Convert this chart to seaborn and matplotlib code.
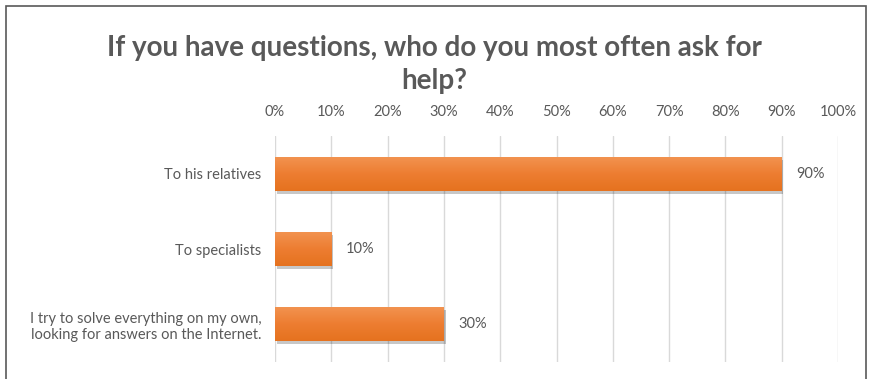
import matplotlib
matplotlib.use("Agg")
import matplotlib.pyplot as plt
import seaborn as sns
import pandas as pd
import numpy as np
from matplotlib.patches import Rectangle

categories = [
    "To his relatives",
    "To specialists",
    "I try to solve everything on my own,\nlooking for answers on the Internet.",
]
shares = [90, 10, 30]
tick_values = [0, 10, 20, 30, 40, 50, 60, 70, 80, 90, 100]
tick_labels = [f"{v}%" for v in tick_values]
title = "If you have questions, who do you most often ask for\nhelp?"

sns.set_theme(style="white")
plt.rcParams["font.family"] = ["Lato", "DejaVu Sans"]

df = pd.DataFrame({"category": categories, "share": shares})

fig = plt.figure(figsize=(8.69, 3.79), dpi=100)
ax = fig.add_axes([0.3165, 0.045, 0.6478, 0.596])

sns.barplot(data=df, x="share", y="category", color="#ED7D31", width=0.45,
            saturation=1, ax=ax, zorder=3, edgecolor="none")

# vertical gradient on each bar plus a soft drop shadow
grad = np.linspace(0, 1, 64).reshape(-1, 1)
cmap = matplotlib.colors.LinearSegmentedColormap.from_list(
    "bar", ["#F2924F", "#ED7D31", "#E5721F"])
for p in ax.patches:
    x0, y0 = p.get_x(), p.get_y()
    w, h = p.get_width(), p.get_height()
    shadow = Rectangle((x0 + 0.3, y0 + 0.04), w, h, facecolor="#000000",
                       alpha=0.22, edgecolor="none", zorder=2)
    ax.add_patch(shadow)
    im = ax.imshow(grad, cmap=cmap, aspect="auto",
                   extent=(x0, x0 + w, y0 + h, y0), zorder=4,
                   interpolation="bilinear")
    im.set_clip_path(p)
    ax.text(x0 + w + 2.5, y0 + h / 2, f"{w:.0f}%", va="center", ha="left",
            fontsize=10.5, color="#595959", zorder=5)

ax.set_xlim(0, 100)
ax.set_ylim(2.5, -0.5)
ax.set_xticks(tick_values)
ax.set_xticklabels(tick_labels)
ax.xaxis.tick_top()
ax.tick_params(axis="x", colors="#595959", labelsize=10.5, length=0, pad=12)
ax.tick_params(axis="y", colors="#595959", labelsize=10.5, length=0, pad=10)
ax.set_xlabel("")
ax.set_ylabel("")
ax.grid(axis="x", color="#D9D9D9", linewidth=1, zorder=0)
ax.set_axisbelow(True)
for s in ax.spines.values():
    s.set_visible(False)

fig.text(0.5, 0.83, title, ha="center", va="center", fontsize=20,
         fontweight="bold", color="#595959", linespacing=1.3)

# chart frame
frame = Rectangle((0.007, -0.05), 0.99, 1.035, transform=fig.transFigure,
                  facecolor="none", edgecolor="#595959", linewidth=1.2)
fig.patches.append(frame)

fig.savefig("out.png", dpi=100)
